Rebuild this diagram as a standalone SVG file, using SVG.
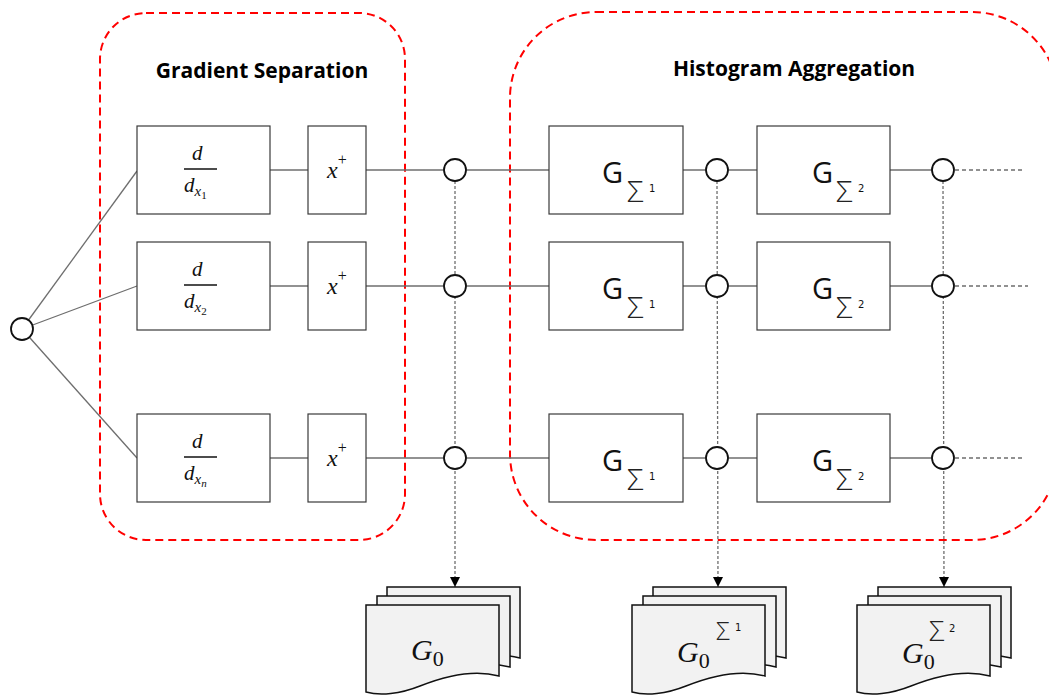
<svg xmlns="http://www.w3.org/2000/svg" xmlns:xlink="http://www.w3.org/1999/xlink" width="1049" height="700" viewBox="0 0 1049 700">
  <style>
    .region { fill: none; stroke: #ff0000; stroke-width: 2; stroke-dasharray: 8 5; }
    .title { font-family: "Open Sans", "Noto Sans", sans-serif; font-weight: bold; font-size: 21px; fill: #000; }
    .box { fill: #fff; stroke: #3a3a3a; stroke-width: 1.2; }
    .wire { stroke: #6e6e6e; stroke-width: 1.3; fill: none; }
    .tap { stroke: #6e6e6e; stroke-width: 1.3; fill: none; stroke-dasharray: 3 2; }
    .tail { stroke: #6e6e6e; stroke-width: 1.3; fill: none; stroke-dasharray: 4 3; }
    .node { fill: #fff; stroke: #111; stroke-width: 1.8; }
    .bar { stroke: #111; stroke-width: 1.4; }
    .math { font-family: "Liberation Serif", "DejaVu Serif", serif; font-style: italic; fill: #111; font-size: 21px; }
    .up { font-style: normal; }
    .sub { font-size: 15px; }
    .subsub { font-size: 11px; }
    .plus { font-size: 16px; font-style: normal; }
    .xp { font-size: 24px; }
    .gsym { font-family: "Open Sans", "Noto Sans", sans-serif; font-size: 29px; fill: #111; }
    .sigma { font-family: "Open Sans", "Noto Sans", sans-serif; font-weight: 300; fill: #222; font-size: 30px; }
    .sigma-sm { font-family: "Open Sans", "Noto Sans", sans-serif; font-weight: 300; fill: #222; font-size: 25px; }
    .idx { font-family: "DejaVu Sans", sans-serif; fill: #111; font-size: 10px; }
    .g0 { font-size: 30px; }
    .zero { font-size: 22px; font-style: normal; }
    .doc { fill: #f2f2f2; stroke: #111; stroke-width: 1.5; }
  </style>
  <defs>
    <!-- flowchart "document" sheet, front-left corner at origin -->
    <path id="sheet" d="M0,0 H133 V71 C104,63 74,73 54,81 C34,89 14,91 0,87 Z"/>
    <marker id="arrow" viewBox="0 0 10 10" refX="10" refY="5" markerWidth="10" markerHeight="10" markerUnits="userSpaceOnUse" orient="auto">
      <path d="M0,0 L10,5 L0,10 Z" fill="#000"/>
    </marker>
  </defs>

  <!-- dashed grouping regions -->
  <g id="regions">
    <rect class="region" x="100" y="13" width="305" height="527" rx="46" ry="46"/>
    <rect class="region" x="510" y="12" width="548" height="528" rx="86" ry="86"/>
    <text class="title" x="262" y="78" text-anchor="middle">Gradient Separation</text>
    <text class="title" x="794" y="76" text-anchor="middle">Histogram Aggregation</text>
  </g>

  <!-- connectors -->
  <g id="connectors">
    <!-- fan-out from the source node -->
    <line class="wire" x1="22" y1="329" x2="137" y2="171"/>
    <line class="wire" x1="22" y1="329" x2="137" y2="286"/>
    <line class="wire" x1="22" y1="329" x2="137" y2="458"/>
    <!-- row 1 -->
    <line class="wire" x1="270" y1="170" x2="308" y2="170"/>
    <line class="wire" x1="366" y1="170" x2="549" y2="170"/>
    <line class="wire" x1="683" y1="170" x2="757" y2="170"/>
    <line class="wire" x1="890" y1="170" x2="932" y2="170"/>
    <line class="tail" x1="955" y1="170" x2="1025" y2="170"/>
    <!-- row 2 -->
    <line class="wire" x1="270" y1="286" x2="308" y2="286"/>
    <line class="wire" x1="366" y1="286" x2="549" y2="286"/>
    <line class="wire" x1="683" y1="286" x2="757" y2="286"/>
    <line class="wire" x1="890" y1="286" x2="932" y2="286"/>
    <line class="tail" x1="955" y1="286" x2="1028" y2="286"/>
    <!-- row n -->
    <line class="wire" x1="270" y1="458" x2="308" y2="458"/>
    <line class="wire" x1="366" y1="458" x2="549" y2="458"/>
    <line class="wire" x1="683" y1="458" x2="757" y2="458"/>
    <line class="wire" x1="890" y1="458" x2="932" y2="458"/>
    <line class="tail" x1="955" y1="458" x2="1025" y2="458"/>
    <!-- taps down to the output stacks -->
    <line class="tap" x1="455" y1="181" x2="455" y2="587" marker-end="url(#arrow)"/>
    <line class="tap" x1="717" y1="181" x2="718" y2="587" marker-end="url(#arrow)"/>
    <line class="tap" x1="943" y1="181" x2="944" y2="587" marker-end="url(#arrow)"/>
  </g>

  <!-- source node -->
  <g id="source">
    <circle class="node" cx="22" cy="329" r="11"/>
  </g>

  <!-- derivative blocks -->
  <g id="deriv-1">
    <rect class="box" x="137" y="126" width="133" height="88"/>
    <text class="math" x="192" y="160">d</text>
    <line class="bar" x1="184" y1="169" x2="217" y2="169"/>
    <text class="math" x="184" y="192">d<tspan class="sub" dy="4">x</tspan><tspan class="subsub up" dy="3">1</tspan></text>
  </g>
  <g id="deriv-2">
    <rect class="box" x="137" y="242" width="133" height="88"/>
    <text class="math" x="192" y="276">d</text>
    <line class="bar" x1="184" y1="285" x2="217" y2="285"/>
    <text class="math" x="184" y="308">d<tspan class="sub" dy="4">x</tspan><tspan class="subsub up" dy="3">2</tspan></text>
  </g>
  <g id="deriv-n">
    <rect class="box" x="137" y="414" width="133" height="88"/>
    <text class="math" x="192" y="448">d</text>
    <line class="bar" x1="184" y1="457" x2="217" y2="457"/>
    <text class="math" x="184" y="480">d<tspan class="sub" dy="4">x</tspan><tspan class="subsub" dy="3">n</tspan></text>
  </g>

  <!-- rectifier blocks -->
  <g id="relu-1">
    <rect class="box" x="308" y="126" width="58" height="88"/>
    <text class="math xp" x="327" y="178">x<tspan class="plus" dy="-13">+</tspan></text>
  </g>
  <g id="relu-2">
    <rect class="box" x="308" y="242" width="58" height="88"/>
    <text class="math xp" x="327" y="294">x<tspan class="plus" dy="-13">+</tspan></text>
  </g>
  <g id="relu-n">
    <rect class="box" x="308" y="414" width="58" height="88"/>
    <text class="math xp" x="327" y="466">x<tspan class="plus" dy="-13">+</tspan></text>
  </g>

  <!-- junction nodes, column 0 -->
  <g id="j0-1"><circle class="node" cx="455" cy="170" r="11"/></g>
  <g id="j0-2"><circle class="node" cx="455" cy="286" r="11"/></g>
  <g id="j0-n"><circle class="node" cx="455" cy="458" r="11"/></g>

  <!-- first aggregation stage -->
  <g id="agg1-1">
    <rect class="box" x="549" y="126" width="134" height="88"/>
    <text class="gsym" x="602" y="183">G</text>
    <text class="sigma" x="627" y="202" style="font-size:30px">Σ</text>
    <text class="idx" x="649" y="192">1</text>
  </g>
  <g id="agg1-2">
    <rect class="box" x="549" y="242" width="134" height="88"/>
    <text class="gsym" x="602" y="299">G</text>
    <text class="sigma" x="627" y="318" style="font-size:30px">Σ</text>
    <text class="idx" x="649" y="308">1</text>
  </g>
  <g id="agg1-n">
    <rect class="box" x="549" y="414" width="134" height="88"/>
    <text class="gsym" x="602" y="471">G</text>
    <text class="sigma" x="627" y="490" style="font-size:30px">Σ</text>
    <text class="idx" x="649" y="480">1</text>
  </g>

  <!-- junction nodes, column 1 -->
  <g id="j1-1"><circle class="node" cx="717" cy="170" r="11"/></g>
  <g id="j1-2"><circle class="node" cx="717" cy="286" r="11"/></g>
  <g id="j1-n"><circle class="node" cx="717" cy="458" r="11"/></g>

  <!-- second aggregation stage -->
  <g id="agg2-1">
    <rect class="box" x="757" y="126" width="133" height="88"/>
    <text class="gsym" x="812" y="183">G</text>
    <text class="sigma" x="836" y="202" style="font-size:30px">Σ</text>
    <text class="idx" x="858" y="192">2</text>
  </g>
  <g id="agg2-2">
    <rect class="box" x="757" y="242" width="133" height="88"/>
    <text class="gsym" x="812" y="299">G</text>
    <text class="sigma" x="836" y="318" style="font-size:30px">Σ</text>
    <text class="idx" x="858" y="308">2</text>
  </g>
  <g id="agg2-n">
    <rect class="box" x="757" y="414" width="133" height="88"/>
    <text class="gsym" x="812" y="471">G</text>
    <text class="sigma" x="836" y="490" style="font-size:30px">Σ</text>
    <text class="idx" x="858" y="480">2</text>
  </g>

  <!-- junction nodes, column 2 -->
  <g id="j2-1"><circle class="node" cx="943" cy="170" r="11"/></g>
  <g id="j2-2"><circle class="node" cx="943" cy="286" r="11"/></g>
  <g id="j2-n"><circle class="node" cx="943" cy="458" r="11"/></g>

  <!-- output stacks -->
  <g id="out-g0">
    <use xlink:href="#sheet" class="doc" x="387" y="587"/>
    <use xlink:href="#sheet" class="doc" x="377" y="596"/>
    <use xlink:href="#sheet" class="doc" x="366" y="605"/>
    <text class="math g0" x="411" y="660">G<tspan class="zero" dy="6">0</tspan></text>
  </g>
  <g id="out-g0-s1">
    <use xlink:href="#sheet" class="doc" x="653" y="587"/>
    <use xlink:href="#sheet" class="doc" x="643" y="596"/>
    <use xlink:href="#sheet" class="doc" x="632" y="605"/>
    <text class="math g0" x="677" y="662">G<tspan class="zero" dy="6">0</tspan></text>
    <text class="sigma-sm" x="716" y="640" style="font-size:25px">Σ</text>
    <text class="idx" x="735" y="631">1</text>
  </g>
  <g id="out-g0-s2">
    <use xlink:href="#sheet" class="doc" x="878" y="587"/>
    <use xlink:href="#sheet" class="doc" x="868" y="596"/>
    <use xlink:href="#sheet" class="doc" x="857" y="605"/>
    <text class="math g0" x="902" y="663">G<tspan class="zero" dy="6">0</tspan></text>
    <text class="sigma-sm" x="929" y="641" style="font-size:28px">Σ</text>
    <text class="idx" x="949" y="632">2</text>
  </g>
</svg>
